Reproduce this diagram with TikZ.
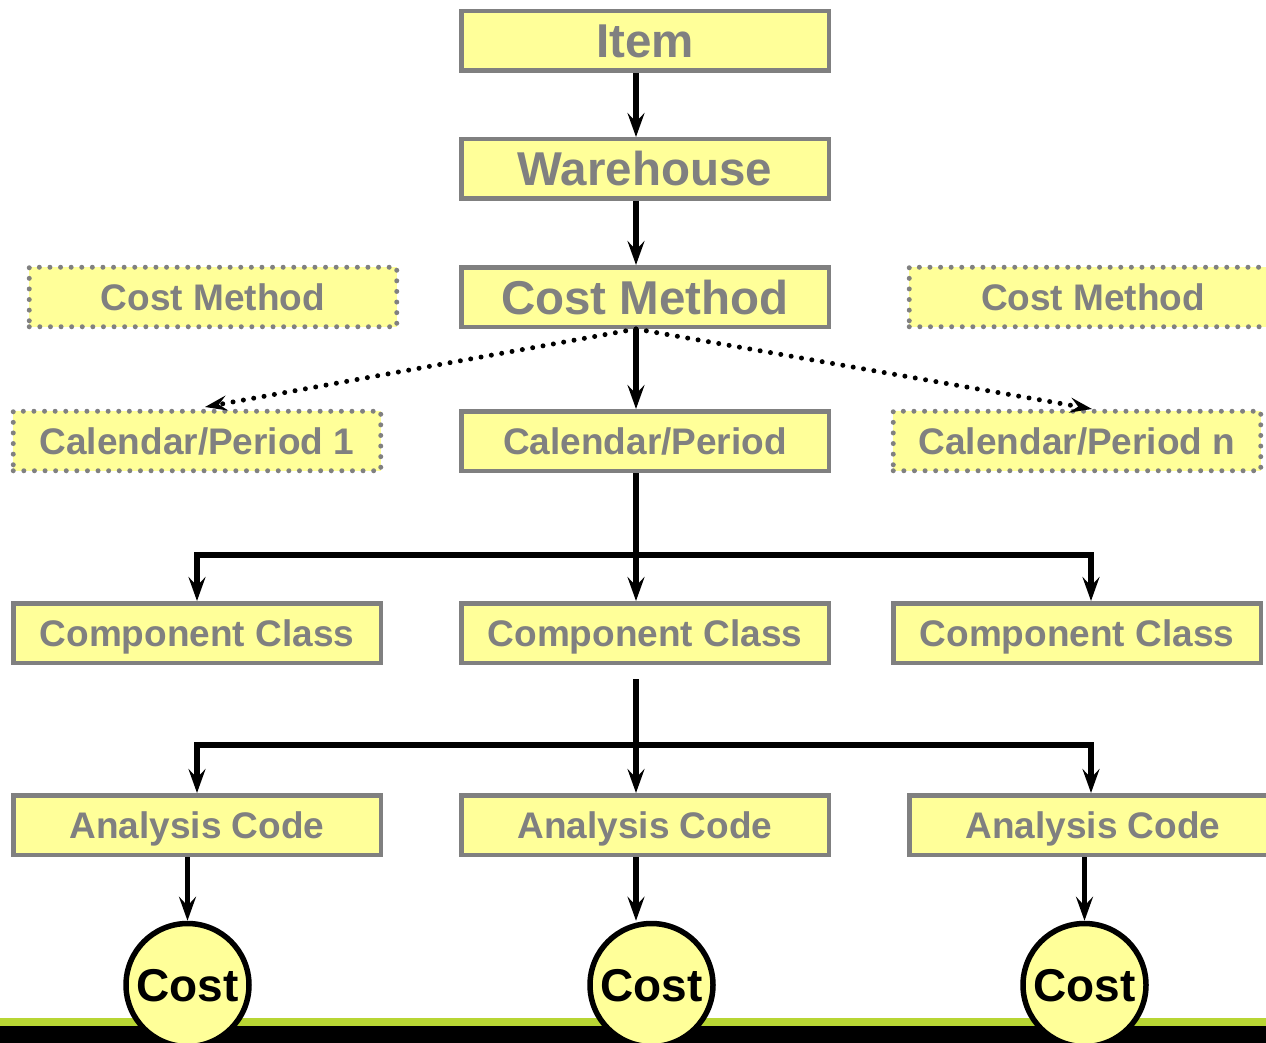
\documentclass[tikz,border=0pt]{standalone}
\usepackage{fontspec}
\setmainfont{Liberation Sans}
\usetikzlibrary{arrows.meta,calc}
\definecolor{boxfill}{RGB}{255,255,153}
\definecolor{boxgray}{RGB}{128,128,128}
\definecolor{stripgreen}{RGB}{184,214,52}
\tikzset{
  box/.style={draw=boxgray,fill=boxfill,line width=4.5pt,minimum width=367.5pt,minimum height=59.5pt,inner sep=0pt,text=boxgray,text height=26.5pt,text depth=0pt,font=\fontsize{37}{40}\selectfont\bfseries},
  bigbox/.style={box,text height=34pt,font=\fontsize{47.5}{50}\selectfont\bfseries},
  dotbox/.style={box,line width=5pt,dash pattern=on 0pt off 10.6pt,line cap=round},
  costnode/.style={circle,draw=black,fill=boxfill,line width=5.5pt,minimum size=123pt,inner sep=0pt,text height=33pt,text depth=0pt,font=\fontsize{46}{48}\selectfont\bfseries},
  arr/.style={line width=5.5pt,-{Stealth[length=24pt,width=17pt,inset=9pt]}},
  plain/.style={line width=5.5pt},
  dotarr/.style={line width=5pt,line cap=round,dash pattern=on 0pt off 10.5pt,-{Stealth[length=22pt,width=15pt,inset=8pt]}},
}
\begin{document}
\begin{tikzpicture}[x=1pt,y=-1pt]
\useasboundingbox (0,0) rectangle (1266,1043);
\clip (0,0) rectangle (1266,1043);
% bottom strip
\fill[stripgreen] (0,1018) rectangle (1266,1027);
\fill[black] (0,1026) rectangle (1266,1043);
% nodes
\node[bigbox] (item) at (645,41) {Item};
\node[bigbox] (wh) at (645,169) {Warehouse};
\node[bigbox] (cm) at (645,297) {Cost Method};
\node[dotbox] (cmL) at (213,297) {Cost Method};
\node[dotbox] (cmR) at (1093,297) {Cost Method};
\node[box] (cal) at (645,441) {Calendar/Period};
\node[dotbox] (calL) at (197,441) {Calendar/Period 1};
\node[dotbox] (calR) at (1077,441) {Calendar/Period n};
\node[box] (comp1) at (197,633) {Component Class};
\node[box] (comp2) at (645,633) {Component Class};
\node[box] (comp3) at (1077,633) {Component Class};
\node[box] (ac1) at (197,825) {Analysis Code};
\node[box] (ac2) at (645,825) {Analysis Code};
\node[box] (ac3) at (1093,825) {Analysis Code};
\node[costnode] (c1) at (187.5,985) {Cost};
\node[costnode] (c2) at (651.5,985) {Cost};
\node[costnode] (c3) at (1084.5,985) {Cost};
% helper coordinates
\coordinate (spine) at (636,0);
\coordinate (xl) at (197,0);
\coordinate (xr) at (1091,0);
\coordinate (j1) at (636,555);
\coordinate (s2) at (636,679);
\coordinate (j2) at (636,745);
\coordinate (dl) at (205,407);
\coordinate (dr) at (1092,409);
% connectors
\draw[arr] (item.south -| spine) -- (wh.north -| spine);
\draw[arr] (wh.south -| spine) -- (cm.north -| spine);
\draw[arr] (cm.south -| spine) -- (cal.north -| spine);
\draw[dotarr] (cm.south -| spine) -- (dl);
\draw[dotarr] (cm.south -| spine) -- (dr);
\draw[plain] (cal.south -| spine) -- (j1);
\draw[arr] (j1) -- (comp2.north -| spine);
\draw[arr] (j1) -| (comp1.north -| xl);
\draw[arr] (j1) -| (comp3.north -| xr);
\draw[arr] (s2) -- (ac2.north -| spine);
\draw[arr] (j2) -| (ac1.north -| xl);
\draw[arr] (j2) -| (ac3.north -| xr);
\draw[arr] (ac1.south -| c1) -- (c1.north);
\draw[arr] (ac2.south -| spine) -- (c2.north -| spine);
\draw[arr] (ac3.south -| c3) -- (c3.north);
\end{tikzpicture}
\end{document}
